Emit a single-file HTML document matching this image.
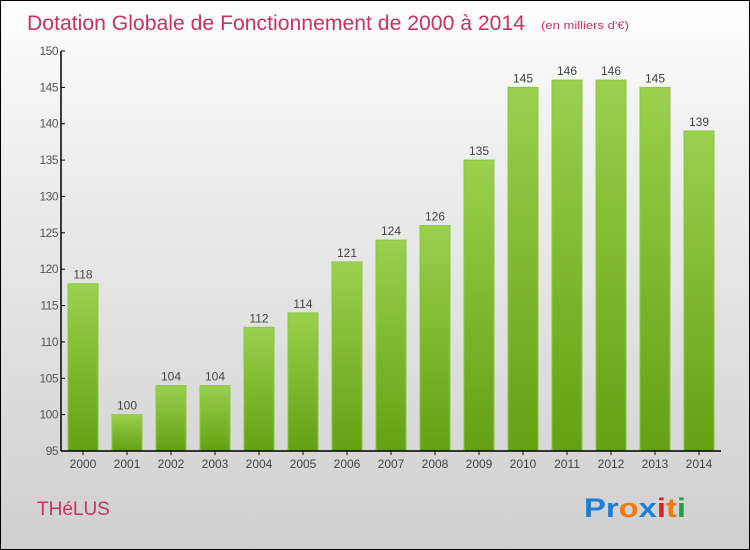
<!DOCTYPE html>
<html><head><meta charset="utf-8"><style>
body{margin:0}
#c{width:748px;height:548px;border:1px solid #000;background:linear-gradient(#fff,#f2f2f2 20%,#cfcfcf);position:relative;overflow:hidden;font-family:"Liberation Sans",sans-serif}
</style></head><body>
<div id="c">
<svg width="748" height="548" style="position:absolute;left:0;top:0" id="svg">
<defs><linearGradient id="g" x1="0" y1="0" x2="0" y2="1"><stop offset="0" stop-color="#9ad04e"/><stop offset="1" stop-color="#64a012"/></linearGradient></defs>
<text x="26" y="29" font-size="21" fill="#c8325f" textLength="498" lengthAdjust="spacingAndGlyphs">Dotation Globale de Fonctionnement de 2000 à 2014</text>
<text x="540" y="28" font-size="11" fill="#c8325f" textLength="88" lengthAdjust="spacingAndGlyphs">(en milliers d'€)</text>
<text x="36" y="514" font-size="19" fill="#c8325f">THéLUS</text>
<text x="583" y="516" font-size="27" font-weight="bold" textLength="102" lengthAdjust="spacingAndGlyphs"><tspan fill="#1a7fd4">Pr</tspan><tspan fill="#f07a10">o</tspan><tspan fill="#1a7fd4">x</tspan><tspan fill="#e02020">i</tspan><tspan fill="#f07a10">t</tspan><tspan fill="#20a040">i</tspan></text>
<g id="plot"></g>
</svg>
</div>
<script>
const categories=["2000","2001","2002","2003","2004","2005","2006","2007","2008","2009","2010","2011","2012","2013","2014"];
const values=[118,100,104,104,112,114,121,124,126,135,145,146,146,145,139];
const yTicks=[95,100,105,110,115,120,125,130,135,140,145,150];
const ns="http://www.w3.org/2000/svg";
const g=document.getElementById('plot');
const x0=60,x1=720,yTop=50,yBot=450,vMin=95,vMax=150;
const band=(x1-x0)/categories.length;
const y=v=>yBot-(v-vMin)/(vMax-vMin)*(yBot-yTop);
const xc=i=>x0+band*(i+0.5);
function el(t,a){const e=document.createElementNS(ns,t);for(const k in a)e.setAttribute(k,a[k]);g.appendChild(e);return e;}
values.forEach((v,i)=>{
 const r=el('rect',{x:xc(i)-15,y:y(v),width:30,height:yBot-y(v),fill:'url(#g)',stroke:'#8cc83c','stroke-width':1});
 
 
 const t=el('text',{x:xc(i),y:y(v)-5,'text-anchor':'middle','font-size':12,fill:'#444'});t.textContent=v;
 
 
 const l=el('text',{x:xc(i),y:467,'text-anchor':'middle','font-size':12,fill:'#444'});l.textContent=categories[i];
 
 
 el('line',{x1:xc(i),x2:xc(i),y1:yBot,y2:yBot+4,stroke:'#000'});
});
yTicks.forEach(v=>{
 el('line',{x1:x0,x2:x0+4,y1:y(v),y2:y(v),stroke:'#000'});
 const t=el('text',{x:x0-3,y:y(v)+4,'text-anchor':'end','font-size':12,fill:'#555','letter-spacing':'-0.5'});t.textContent=v;
 
 
});
const ya=el('line',{x1:x0,x2:x0,y1:yTop,y2:yBot,stroke:'#000','stroke-width':1.5});


const xa=el('line',{x1:x0,x2:x1,y1:yBot,y2:yBot,stroke:'#000','stroke-width':1.5});


</script>
</body></html>
